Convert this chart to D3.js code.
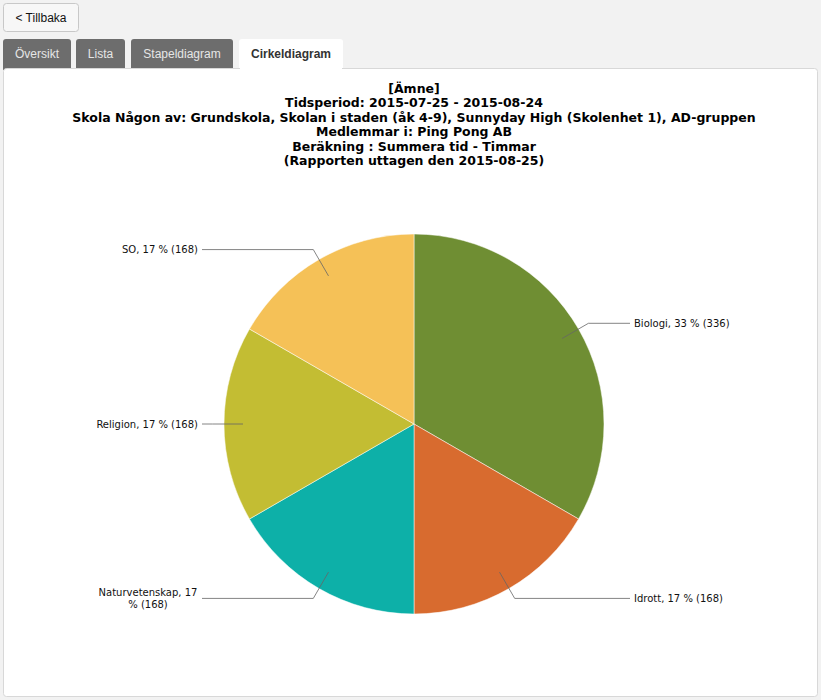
<!DOCTYPE html>
<html><head><meta charset="utf-8">
<script src="https://cdn.jsdelivr.net/npm/d3@7"></script>
<style>
body{margin:0;background:#f2f2f2;font-family:"Liberation Sans",Arial,sans-serif;}
</style></head><body>
<svg id="c" width="821" height="700"></svg>
<script>
const categories=["Biologi","Idrott","Naturvetenskap","Religion","SO"];
const values=[336,168,168,168,168];
const percents=[33,17,17,17,17];
const colors=["#6f8e33","#d86b2f","#0db0a8","#c3bd33","#f5c157"];
const titleLines=["[Ämne]","Tidsperiod: 2015-07-25 - 2015-08-24","Skola Någon av: Grundskola, Skolan i staden (åk 4-9), Sunnyday High (Skolenhet 1), AD-gruppen","Medlemmar i: Ping Pong AB","Beräkning : Summera tid - Timmar","(Rapporten uttagen den 2015-08-25)"];

const svg=d3.select("#c");
// back button
svg.append("rect").attr("x",3.5).attr("y",3.5).attr("width",75).attr("height",28).attr("rx",3).attr("fill","#f7f7f7").attr("stroke","#c8c8c8");
svg.append("text").attr("x",41).attr("y",22).attr("text-anchor","middle").attr("font-size",12).attr("fill","#111").text("< Tillbaka");
// tabs
const tabs=[["Översikt",3,68],["Lista",76,49],["Stapeldiagram",131,102],["Cirkeldiagram",239,104]];
tabs.forEach((t,i)=>{
  const act=i===3;
  svg.append("path").attr("d",`M${t[1]},70 V42 q0,-3 3,-3 H${t[1]+t[2]-3} q3,0 3,3 V70 Z`).attr("fill",act?"#fff":"#6d6d6d");
  svg.append("text").attr("x",t[1]+t[2]/2).attr("y",58).attr("text-anchor","middle").attr("font-size",12)
    .attr("font-weight",act?"bold":"normal").attr("fill",act?"#333":"#e6e6e6").text(t[0]);
});
svg.append("rect").attr("x",3.5).attr("y",68.5).attr("width",814).attr("height",628).attr("rx",3).attr("fill","#fff").attr("stroke","#d8d8d8");
svg.append("rect").attr("x",240).attr("y",67).attr("width",102).attr("height",4).attr("fill","#fff");

const tg=svg.append("g").attr("font-family","DejaVu Sans").attr("font-weight","bold").attr("font-size",12.5).attr("text-anchor","middle");
titleLines.forEach((l,i)=>tg.append("text").attr("x",414).attr("y",93+i*14.4).text(l));

const cx=414,cy=424,r=190;
const pie=d3.pie().sort(null).value(d=>d)(values);
const arc=d3.arc().innerRadius(0).outerRadius(r);
const g=svg.append("g").attr("transform",`translate(${cx},${cy})`);
g.selectAll("path").data(pie).join("path").attr("d",arc).attr("fill",(d,i)=>colors[i]).attr("stroke","#fff").attr("stroke-width",0.5);

const lg=svg.append("g").attr("font-family","DejaVu Sans").attr("font-size",10).attr("fill","#111");
pie.forEach((d,i)=>{
  const a=(d.startAngle+d.endAngle)/2;
  const p1=[cx+0.9*r*Math.sin(a),cy-0.9*r*Math.cos(a)];
  const p2=[cx+1.06*r*Math.sin(a),cy-1.06*r*Math.cos(a)];
  const right=Math.sin(a)>0;
  const xe=right?630:202;
  lg.append("polyline").attr("points",[p1,p2,[xe,p2[1]]].map(p=>p.join(",")).join(" ")).attr("fill","none").attr("stroke","#666").attr("stroke-width",0.8);
  const label=`${categories[i]}, ${percents[i]} % (${values[i]})`;
  if(categories[i]==="Naturvetenskap"){
    const t=lg.append("text").attr("text-anchor","middle");
    t.append("tspan").attr("x",148).attr("y",p2[1]-2).text(`${categories[i]}, ${percents[i]}`);
    t.append("tspan").attr("x",148).attr("y",p2[1]+10).text(`% (${values[i]})`);
  } else {
    lg.append("text").attr("x",right?xe+4:xe-4).attr("y",p2[1]+3.5).attr("text-anchor",right?"start":"end").text(label);
  }
});
</script></body></html>
